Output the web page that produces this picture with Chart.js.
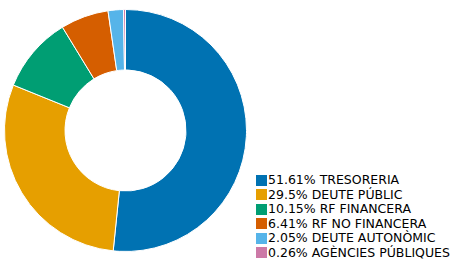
<!DOCTYPE html>
<html>
<head>
<meta charset="utf-8">
<script src="https://cdn.jsdelivr.net/npm/chart.js@4"></script>
<style>
  body { margin: 0; background: #fff; width: 451px; height: 260px; position: relative; overflow: hidden; }
  #wrap { position: absolute; left: 4px; top: 9px; width: 243px; height: 243px; }
  #legend { position: absolute; left: 256px; top: 173px; font-family: "DejaVu Sans", sans-serif; font-size: 12.5px; color: #000; }
  .row { height: 14.5px; line-height: 14.5px; white-space: nowrap; display: flex; align-items: center; }
  .box { width: 11px; height: 11px; margin-right: 1px; flex: none; }
</style>
</head>
<body>
<div id="wrap"><canvas id="myChart"></canvas></div>
<div id="legend"></div>
<script>
const categories = ["TRESORERIA", "DEUTE PÚBLIC", "RF FINANCERA", "RF NO FINANCERA", "DEUTE AUTONÒMIC", "AGÈNCIES PÚBLIQUES"];
const values = [51.61, 29.5, 10.15, 6.41, 2.05, 0.26];
const colors = ["#0072B2", "#E69F00", "#009E73", "#D55E00", "#56B4E9", "#CC79A7"];

const legend = document.getElementById("legend");
categories.forEach((name, i) => {
  const row = document.createElement("div");
  row.className = "row";
  const box = document.createElement("span");
  box.className = "box";
  box.style.background = colors[i];
  const label = document.createElement("span");
  label.textContent = values[i] + "% " + name;
  row.appendChild(box);
  row.appendChild(label);
  legend.appendChild(row);
});

const ctx = document.getElementById("myChart").getContext("2d");
new Chart(ctx, {
  type: "doughnut",
  data: {
    labels: categories,
    datasets: [{
      data: values,
      backgroundColor: colors,
      borderColor: "#fff",
      borderWidth: 1,
    }],
  },
  options: {
    responsive: true,
    maintainAspectRatio: false,
    animation: false,
    cutout: "50%",
    layout: { padding: 0 },
    plugins: {
      legend: { display: false },
      tooltip: { enabled: false },
    },
  },
});
</script>
</body>
</html>
